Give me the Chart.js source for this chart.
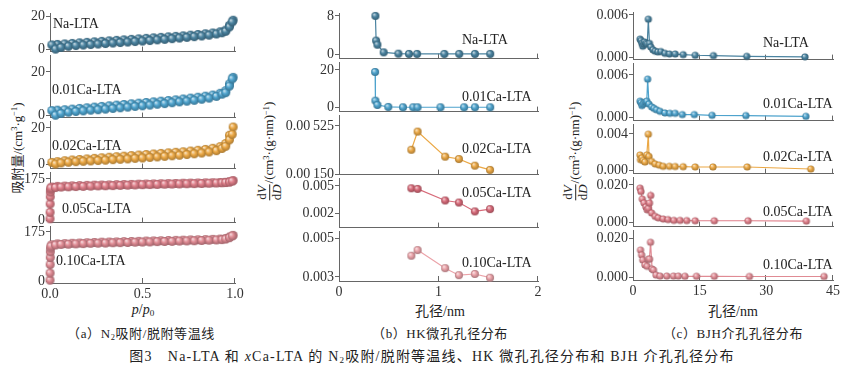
<!DOCTYPE html>
<html>
<head>
<meta charset="utf-8">
<script src="https://cdn.jsdelivr.net/npm/chart.js@4.4.0/dist/chart.umd.min.js"></script>
<style>
body{margin:0;background:#fff}
#fig{position:relative;width:850px;height:370px;overflow:hidden;font-family:"Liberation Serif","Noto Sans CJK SC",serif;color:#222}
#fig canvas{position:absolute}
.t{position:absolute;white-space:nowrap;font-size:14px;line-height:1}
.c{transform:translate(-50%,-50%)}
.lab{transform:translateY(-50%)}
.cap{font-size:13px;letter-spacing:0.6px}
.yt{position:absolute;white-space:nowrap;font-size:13px;line-height:1;transform:translate(-50%,-50%) rotate(-90deg)}
sup{font-size:0.65em;vertical-align:0.5em;line-height:0}
sub{font-size:0.65em;vertical-align:-0.25em;line-height:0}
.fr{display:inline-block;vertical-align:middle;text-align:center;line-height:1.1;margin-right:1px}
.fr span{display:block}
.nu{border-bottom:1px solid #222}
</style>
</head>
<body>
<div id="fig">
  <div class="yt" style="left:17px;top:148px">吸附量/(cm<sup>3</sup>·g<sup>−1</sup>)</div>
  <div class="yt" style="left:270px;top:151px"><span class="fr"><span class="nu">d<i>V</i></span><span>d<i>D</i></span></span>/(cm<sup>3</sup>·(g·nm)<sup>−1</sup>)</div>
  <div class="yt" style="left:576px;top:151px"><span class="fr"><span class="nu">d<i>V</i></span><span>d<i>D</i></span></span>/(cm<sup>3</sup>·(g·nm)<sup>−1</sup>)</div>

  <div class="t c" style="left:143px;top:310px"><i>p</i>/<i>p</i><sub>0</sub></div>
  <div class="t c" style="left:440px;top:312px">孔径/nm</div>
  <div class="t c" style="left:733px;top:312px">孔径/nm</div>

  <div class="t c cap" style="left:141px;top:333px">（a）N<sub>2</sub>吸附/脱附等温线</div>
  <div class="t c cap" style="left:440px;top:333px">（b）HK微孔孔径分布</div>
  <div class="t c cap" style="left:733px;top:333px">（c）BJH介孔孔径分布</div>
  <div class="t c" style="left:432px;top:357px;font-size:14px;letter-spacing:1.2px">图3　Na-LTA 和 <i>x</i>Ca-LTA 的 N<sub>2</sub>吸附/脱附等温线、HK 微孔孔径分布和 BJH 介孔孔径分布</div>
</div>

<script>
// nombres de las muestras
const muestras = ['Na-LTA', '0.01Ca-LTA', '0.02Ca-LTA', '0.05Ca-LTA', '0.10Ca-LTA'];

// (a) isotermas N2: presiones relativas
const pAds = [0.03,0.06,0.1,0.14,0.18,0.22,0.26,0.3,0.34,0.38,0.42,0.46,0.5,0.54,0.58,0.62,0.66,0.7,0.74,0.78,0.82,0.86,0.9,0.93,0.95,0.97,0.985];
const pDes = [0.99,0.97,0.95,0.92,0.88,0.84,0.8,0.76,0.72,0.68,0.64,0.6,0.56,0.52,0.48,0.44,0.4,0.36,0.32,0.28,0.24,0.2,0.16,0.12,0.08,0.04,0.01];
const pMicro = [0.0002,0.0005,0.001,0.0015,0.002,0.003,0.005];

const adsNa = [0.3,1.3,2.0,2.4,2.7,3.0,3.3,3.6,3.9,4.2,4.5,4.8,5.1,5.4,5.8,6.1,6.5,6.9,7.3,7.7,8.1,8.6,9.3,10.0,10.9,13.5,16.5];
const desNa = [17.5,14.5,11.6,10.6,9.9,9.4,9.0,8.6,8.2,7.9,7.6,7.3,7.0,6.7,6.4,6.1,5.8,5.5,5.2,4.9,4.6,4.3,4.0,3.7,3.4,3.1,2.8];
const ads01 = [0.2,1.0,1.6,1.9,2.2,2.5,2.7,3.0,3.3,3.6,3.9,4.2,4.5,4.8,5.2,5.5,5.9,6.3,6.6,7.0,7.5,8.0,8.8,9.8,10.5,13.5,16.8];
const des01 = [17.5,14.5,11.4,10.2,9.4,8.9,8.4,8.0,7.6,7.2,6.9,6.6,6.3,6.0,5.7,5.4,5.1,4.8,4.5,4.2,3.9,3.6,3.3,3.0,2.7,2.5,2.3];
const ads02 = [0.3,0.9,1.3,1.6,1.8,2.0,2.2,2.4,2.7,2.9,3.1,3.4,3.6,3.9,4.2,4.5,4.8,5.1,5.5,5.9,6.3,6.9,7.6,8.8,10.0,13.5,16.5];
const des02 = [20.5,16.0,11.5,9.8,8.9,8.3,7.8,7.4,7.0,6.7,6.4,6.1,5.8,5.5,5.2,4.9,4.6,4.3,4.0,3.7,3.4,3.1,2.8,2.5,2.1,1.6,1.2];
const ads05 = [8,35,70,100,120,132,137,139,141,142,143,144,145,146,146.5,147,148,149,150,151,151.5,152,153,153.5,154,155,155.5,156,157,158,159,160,162,166];
const des05 = [168,163,161,160,159,158.5,158,157.5,157,156,155.5,155,154,153.5,153,152,151.5,151,150,149.5,149,148,147,146,145,144,141];
const ads10 = [5,30,60,85,105,118,125,129,131,132,133,134,135,135.5,136,137,137.5,138,139,139.5,140,141,141.5,142,143,143.5,144,145,146,147,148,150,155,161];
const des10 = [163,157,152,150,149,148,147.5,147,146,145.5,145,144,143.5,143,142,141.5,141,140,139.5,139,138,137,136,135,134,133,130];

// (b) HK microporos
const hkDNa = [0.366,0.373,0.386,0.449,0.597,0.703,0.785,1.059,1.208,1.366,1.52];
const hkVNa = [8.0,2.9,2.05,0.47,0.2,0.15,0.15,0.15,0.15,0.15,0.15];
const hkD01 = [0.363,0.366,0.386,0.495,0.643,0.746,0.789,1.02,1.257,1.366,1.52];
const hkV01 = [18.9,3.7,1.4,0.4,0.2,0.2,0.2,0.2,0.2,0.2,0.2];
const hkDCa = [0.727,0.79,1.067,1.205,1.365,1.518];
const hkV02 = [0.00341,0.00481,0.00288,0.0027,0.00219,0.00186];
const hkV05 = [0.00475,0.00468,0.00343,0.00321,0.00225,0.0025];
const hkV10 = [0.00409,0.00438,0.00345,0.00309,0.00315,0.00296];

// (c) BJH mesoporos
const bjhDNa = [1.6,1.8,2.0,2.2,2.4,2.6,2.9,3.2,3.45,3.7,4.0,4.5,5.0,5.6,6.3,7.2,8.2,9.5,11.3,14.0,18.1,25.6,38.7];
const bjhVNa = [0.0026,0.0024,0.002,0.0016,0.0019,0.0022,0.002,0.0019,0.0054,0.002,0.0015,0.0011,0.0009,0.0008,0.00085,0.0006,0.0005,0.0005,0.00042,0.00033,0.00028,0.00018,0.0001];
const bjhD01 = [1.6,1.8,2.0,2.3,2.6,2.9,3.1,3.3,3.6,4.2,4.7,5.3,6.1,7.2,8.3,9.5,11.1,13.8,17.8,25.4,38.9];
const bjhV01 = [0.0023,0.0021,0.0017,0.0019,0.0021,0.0022,0.0023,0.0054,0.0019,0.0015,0.0013,0.0011,0.00088,0.00065,0.0006,0.0006,0.00042,0.00042,0.00032,0.00028,0.00018];
const bjhD02 = [1.6,1.7,2.0,2.3,2.7,3.1,3.45,3.6,4.2,5.0,5.9,6.8,8.2,9.5,11.3,14.0,18.0,25.7,40.0];
const bjhV02 = [0.0017,0.0012,0.00137,0.0011,0.00094,0.0017,0.00397,0.00155,0.001,0.00072,0.0006,0.00047,0.00047,0.00045,0.00043,0.0004,0.0004,0.0004,0.00018];
const bjhD05 = [1.6,1.8,2.1,2.5,2.9,3.2,3.45,3.7,3.98,4.2,5.0,5.7,6.8,7.9,9.2,10.6,12.1,14.0,18.3,25.9,39.0];
const bjhV05 = [0.0183,0.0165,0.0125,0.0104,0.0083,0.0068,0.0075,0.0104,0.0144,0.0051,0.0033,0.0025,0.0019,0.0016,0.0012,0.0012,0.0011,0.001,0.001,0.001,0.0008];
const bjhD10 = [1.7,1.95,2.2,2.7,3.2,3.45,3.7,3.95,4.3,4.6,5.2,6.1,7.6,9.1,10.2,11.7,14.3,18.3,26.2,43.0];
const bjhV10 = [0.0138,0.0113,0.0087,0.0062,0.0055,0.0091,0.0092,0.0178,0.0041,0.0036,0.001,0.0005,0.0005,0.0005,0.0005,0.0004,0.0004,0.0004,0.0003,0.0003];

// ticks
const isoYTicks = [[0,20],[0,20],[0,20],[0,175],[0,175]];
const isoYText = [['0','20'],['0','20'],['0','20'],['0','175'],['0','175']];
const hkYTicks = [[0,8],[0,20],[0.0015,0.00525],[0.002,0.005],[0.003,0.005]];
const hkYText = [['0','8'],['0','20'],['0.00\u2009150','0.00\u2009525'],['0.002','0.005'],['0.003','0.005']];
const bjhYTicks = [[0,0.006],[0,0.006],[0,0.004],[0,0.02],[0,0.02]];
const bjhYText = [['0.000','0.006'],['0.000','0.006'],['0.000','0.004'],['0.000','0.020'],['0.000','0.020']];
const isoXTicks = [0,0.5,1], isoXText = ['0.0','0.5','1.0'];
const hkXTicks = [0,1,2], hkXText = ['0','1','2'];
const bjhXTicks = [0,15,30,45], bjhXText = ['0','15','30','45'];

// colores
const coloresIso = ['#4a83a0','#4ea3cd','#eba845','#df7f8a','#e08b94'];
const coloresHK = ['#4a83a0','#4ea3cd','#eba845','#d76a79','#eba3a9'];
const coloresBJH = ['#4a83a0','#4ea3cd','#eba845','#df7f8a','#e08b94'];
const colEje = '#666';
const fuente = {family:'"Liberation Serif", serif', size:14};

// geometria de los paneles
const panelA = {axisX:50, width:185, yw:44, r:4.5, xmin:0, xmax:1,
  tops:[13,55,121,172,226], bottoms:[52,118,169,223,283],
  ranges:[[-1.2,21.8],[-0.9,27.7],[-2.2,23.8],[-8,204],[-5,196]],
  labX:[53,52,52,62,56], labY:[24,90,146,209,261]};
const panelB = {axisX:339, width:199, yw:64, r:4, xmin:0, xmax:2,
  tops:[13,62,115,178,231], bottoms:[59,112,175,228,281],
  ranges:[[-0.82,8.6],[-2.1,24.2],[0.0015,0.00609],[0.0005,0.00586],[0.00279,0.00536]],
  labX:[462,462,462,462,462], labY:[40,97,149,193,263]};
const panelC = {axisX:633, width:200, yw:52, r:3.6, xmin:0, xmax:45,
  tops:[12,63,124,177,230], bottoms:[60,121,174,227,280],
  ranges:[[-0.00028,0.00642],[-0.00042,0.00767],[-0.00032,0.00508],[-0.0021,0.0242],[-0.0015,0.0241]],
  labX:[763,763,763,763,763], labY:[43,104,157,212,265]};

const fig = document.getElementById('fig');

const mezclar = (hex, otro, t) => {
  const a = parseInt(hex.slice(1), 16), b = parseInt(otro.slice(1), 16);
  const ch = s => Math.round(((a >> s) & 255) * (1 - t) + ((b >> s) & 255) * t);
  return 'rgb(' + ch(16) + ',' + ch(8) + ',' + ch(0) + ')';
};

// bolita con brillo
const esfera = (col, r) => {
  const c = document.createElement('canvas');
  const s = Math.ceil(r * 2) + 2;
  c.width = s; c.height = s;
  const g = c.getContext('2d');
  const m = s / 2;
  const grad = g.createRadialGradient(m - r * 0.35, m - r * 0.4, r * 0.1, m, m, r);
  grad.addColorStop(0, mezclar(col, '#ffffff', 0.65));
  grad.addColorStop(0.45, col);
  grad.addColorStop(1, mezclar(col, '#000000', 0.28));
  g.fillStyle = grad;
  g.beginPath(); g.arc(m, m, r, 0, Math.PI * 2); g.fill();
  return c;
};

// marcas del eje x hacia dentro
const ticksDentro = {
  id: 'ticksDentro',
  beforeDatasetsDraw(chart) {
    const {ctx, chartArea, scales: {x}} = chart;
    ctx.save();
    ctx.strokeStyle = colEje; ctx.lineWidth = 1;
    x.ticks.forEach(t => {
      if (t.value === x.min) return;
      const px = Math.round(x.getPixelForValue(t.value)) - 0.5;
      ctx.beginPath(); ctx.moveTo(px, chartArea.bottom); ctx.lineTo(px, chartArea.bottom - 5); ctx.stroke();
    });
    ctx.restore();
  }
};

const serie = (xs, ys, col, r) => ({
  data: xs.map((x, k) => ({x: x, y: ys[k]})),
  borderColor: col, borderWidth: 1.2, showLine: true, clip: false,
  pointStyle: esfera(col, r), pointRadius: r, pointHoverRadius: r
});

const dibujarSub = (panel, i, datasets, yTicks, yText, xTicks, xText) => {
  const last = i === 4;
  const padTop = 10, padRight = 16, padBottom = 8;
  const xh = last ? 26 : 1;
  const top = panel.tops[i], bottom = panel.bottoms[i];
  const canvas = document.createElement('canvas');
  canvas.width = panel.yw + panel.width + padRight;
  canvas.height = padTop + (bottom - top) + xh + padBottom;
  canvas.style.left = (panel.axisX - panel.yw) + 'px';
  canvas.style.top = (top - padTop) + 'px';
  fig.appendChild(canvas);

  new Chart(canvas, {
    type: 'scatter',
    data: {datasets: datasets},
    options: {
      responsive: false, animation: false, events: [],
      layout: {autoPadding: false, padding: {top: padTop, right: padRight, bottom: padBottom, left: 0}},
      plugins: {legend: {display: false}, tooltip: {enabled: false}},
      scales: {
        x: {
          type: 'linear', min: panel.xmin, max: panel.xmax,
          afterBuildTicks: s => { s.ticks = xTicks.map(v => ({value: v})); },
          afterFit: s => { s.height = xh; },
          ticks: {display: last, autoSkip: false, maxRotation: 0, padding: 3, font: fuente, color: '#333',
            callback: (v, k) => xText[k]},
          grid: {drawOnChartArea: false, drawTicks: false, color: colEje},
          border: {color: colEje, width: 1}
        },
        y: {
          type: 'linear', min: panel.ranges[i][0], max: panel.ranges[i][1],
          afterBuildTicks: s => { s.ticks = yTicks.map(v => ({value: v})); },
          afterFit: s => { s.width = panel.yw; },
          ticks: {autoSkip: false, padding: 1, font: fuente, color: '#333',
            callback: (v, k) => yText[k]},
          grid: {drawOnChartArea: false, drawTicks: true, tickLength: 4, color: colEje},
          border: {color: colEje, width: 1}
        }
      }
    },
    plugins: [ticksDentro]
  });

  const lab = document.createElement('div');
  lab.className = 't lab';
  lab.style.left = panel.labX[i] + 'px';
  lab.style.top = panel.labY[i] + 'px';
  lab.textContent = muestras[i];
  fig.appendChild(lab);
};

// (a)
const isoAds = [adsNa, ads01, ads02, ads05, ads10];
const isoDes = [desNa, des01, des02, des05, des10];
isoAds.forEach((ads, i) => {
  const pa = i >= 3 ? pMicro.concat(pAds) : pAds;
  dibujarSub(panelA, i, [
    serie(pa, ads, coloresIso[i], panelA.r),
    serie(pDes, isoDes[i], coloresIso[i], panelA.r)
  ], isoYTicks[i], isoYText[i], isoXTicks, isoXText);
});

// (b)
const hkD = [hkDNa, hkD01, hkDCa, hkDCa, hkDCa];
const hkV = [hkVNa, hkV01, hkV02, hkV05, hkV10];
hkV.forEach((v, i) => {
  dibujarSub(panelB, i, [serie(hkD[i], v, coloresHK[i], panelB.r)],
    hkYTicks[i], hkYText[i], hkXTicks, hkXText);
});

// (c)
const bjhD = [bjhDNa, bjhD01, bjhD02, bjhD05, bjhD10];
const bjhV = [bjhVNa, bjhV01, bjhV02, bjhV05, bjhV10];
bjhV.forEach((v, i) => {
  dibujarSub(panelC, i, [serie(bjhD[i], v, coloresBJH[i], panelC.r)],
    bjhYTicks[i], bjhYText[i], bjhXTicks, bjhXText);
});
</script>
</body>
</html>
